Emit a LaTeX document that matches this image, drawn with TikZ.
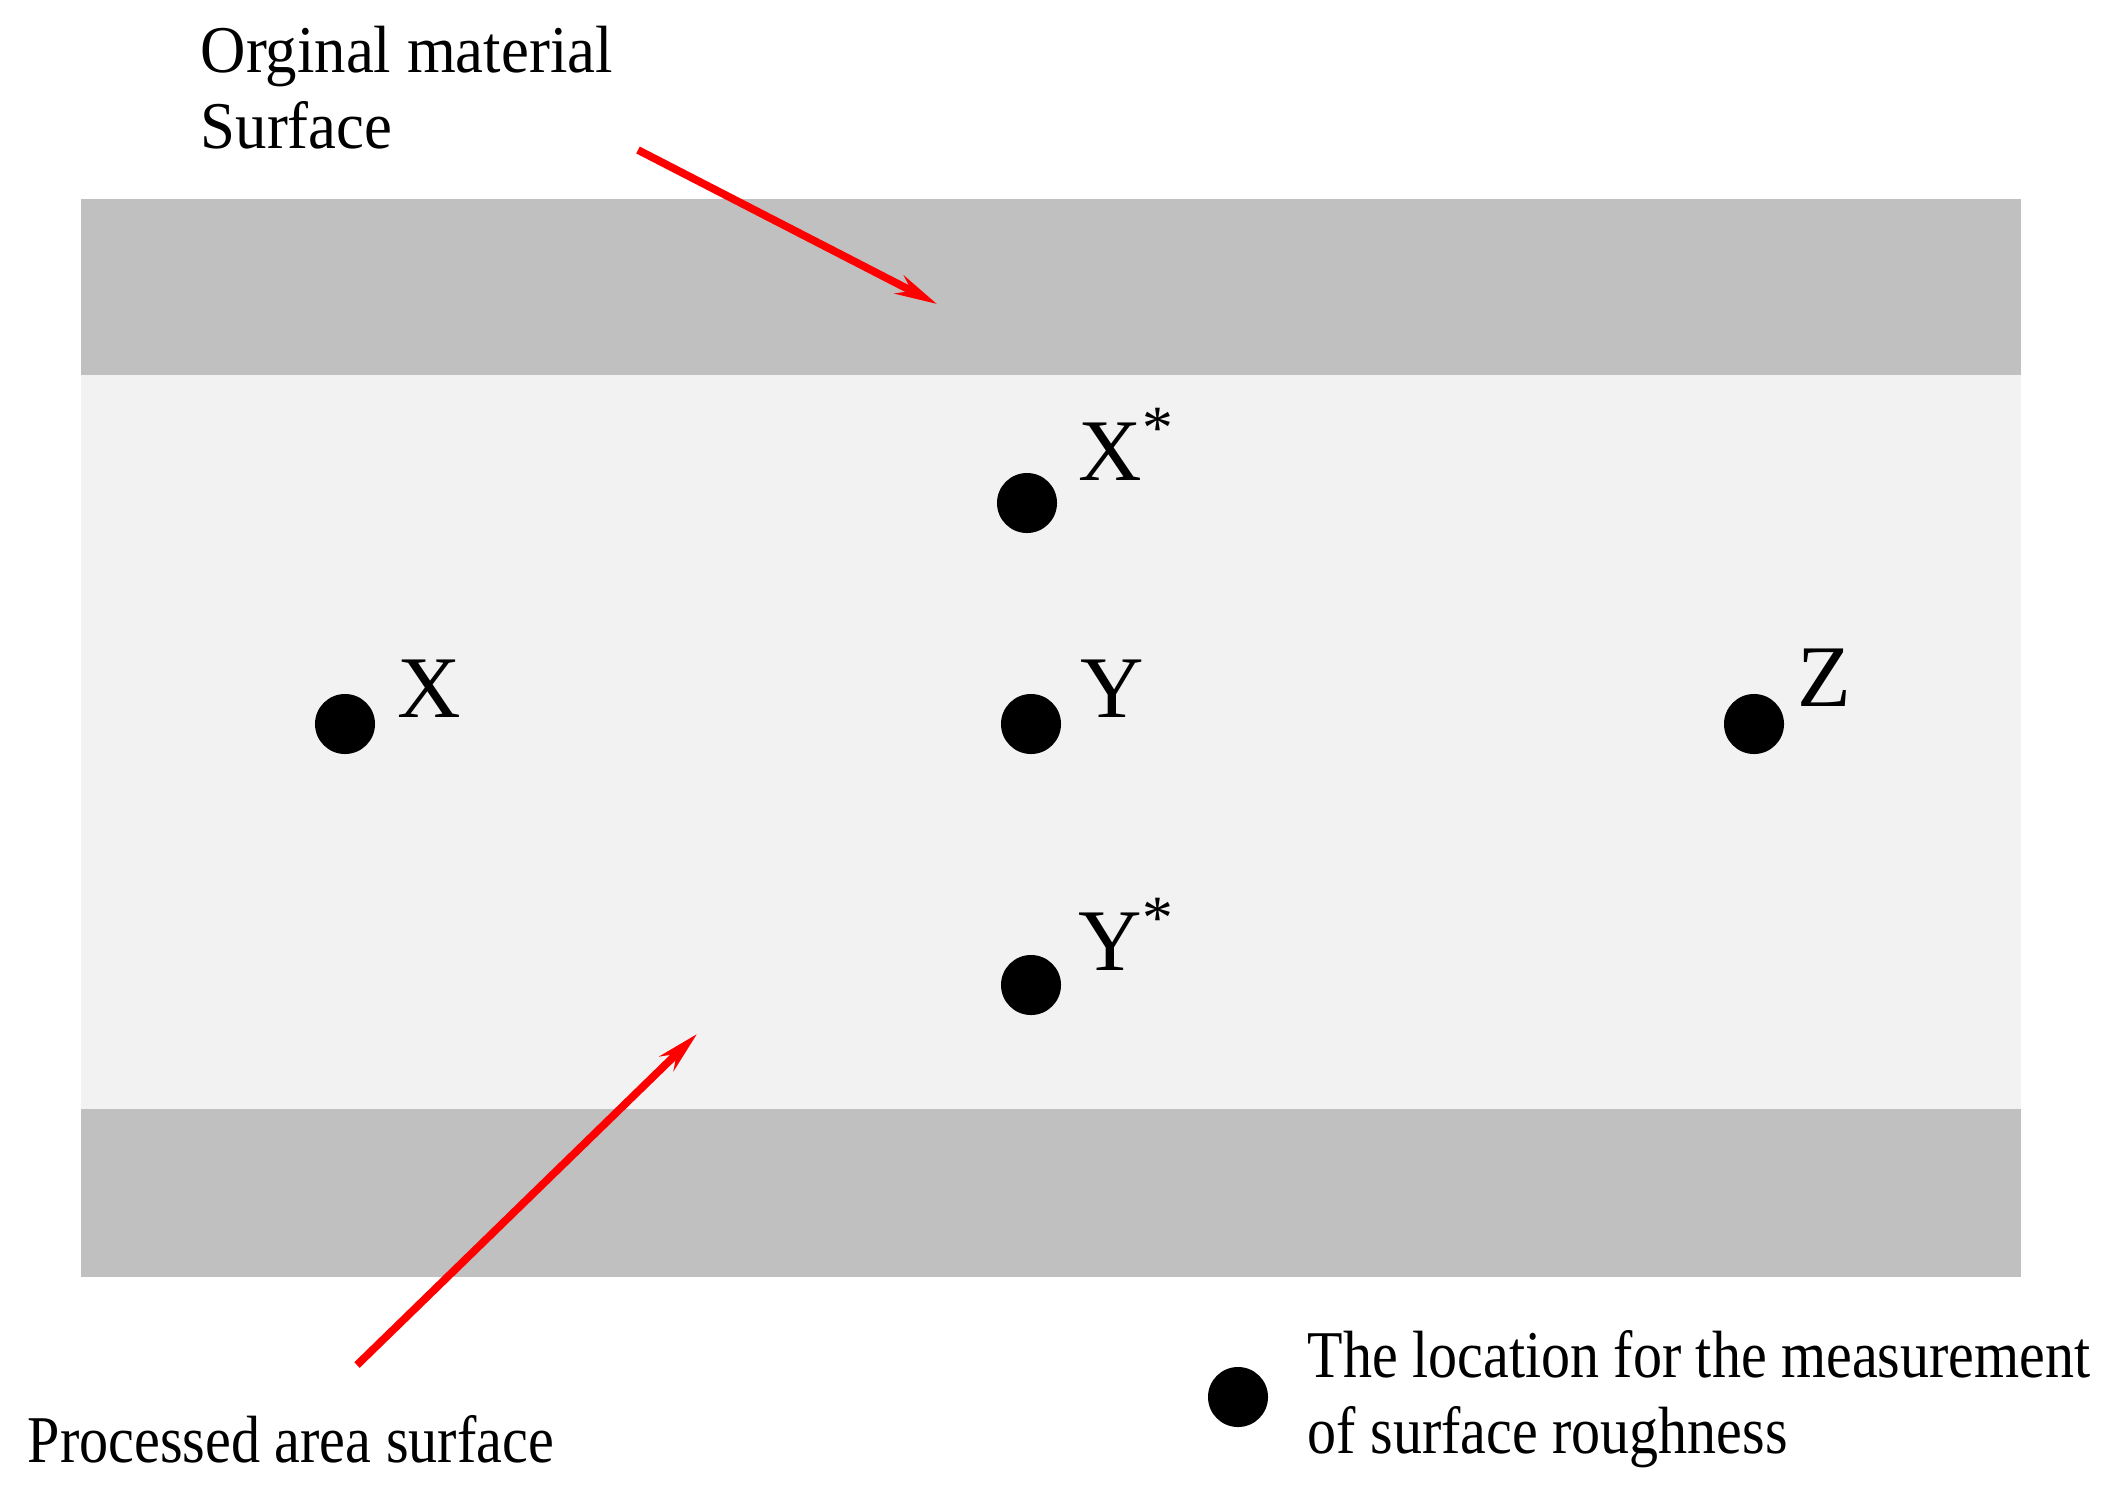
\documentclass[tikz,border=0pt]{standalone}
\usepackage{graphicx}
\usepackage{fontspec}
\setmainfont{Liberation Serif}
\usetikzlibrary{arrows.meta}
\definecolor{bandgray}{RGB}{192,192,192}
\definecolor{midgray}{RGB}{242,242,242}
\begin{document}
\begin{tikzpicture}[x=0.01cm,y=-0.01cm,
  dot/.style={circle,fill=black,inner sep=0pt,minimum size=0.6cm},
  lbl/.style={anchor=base west,inner sep=0pt,font=\fontsize{25}{30}\selectfont},
  txt/.style={anchor=base west,inner sep=0pt,font=\fontsize{19}{22}\selectfont},
  redarrow/.style={red,line width=2.2pt,-{Stealth[length=0.42cm,width=0.2cm]}}]
\useasboundingbox (0,0) rectangle (2121,1493);
\fill[white] (0,0) rectangle (2121,1493);
% plate
\fill[midgray] (81,375) rectangle (2021,1109);
\fill[bandgray] (81,199) rectangle (2021,375);
\fill[bandgray] (81,1109) rectangle (2021,1277);
% measurement points
\node[dot] (dX) at (345,724) {};
\node[dot] (dXs) at (1027,503) {};
\node[dot] (dY) at (1031,724) {};
\node[dot] (dYs) at (1031,985) {};
\node[dot] (dZ) at (1754,724) {};
\node[dot] (dL) at (1238,1397) {};
% point labels
\node[lbl] (lX) at (397,717) {X};
\node[lbl] (lXs) at (1078,480) {X\textsuperscript{*}};
\node[lbl] (lY) at (1080,717) {Y};
\node[lbl] (lYs) at (1078,970) {Y\textsuperscript{*}};
\node[lbl] (lZ) at (1797,706) {Z};
% texts
\node[txt] (orig1) at (200,72) {\scalebox{0.94}[1]{Orginal material}};
\node[txt] (orig2) at (200,148) {\scalebox{0.94}[1]{Surface}};
\node[txt] (proc) at (27,1462) {\scalebox{0.87}[1]{Processed area surface}};
\node[txt] (leg1) at (1307,1377) {\scalebox{0.868}[1]{The location for the measurement}};
\node[txt] (leg2) at (1307,1453) {\scalebox{0.868}[1]{of surface roughness}};
% arrows
\coordinate (a1s) at (638,150);
\coordinate (a1e) at (937,304);
\coordinate (a2s) at (357,1365);
\coordinate (a2e) at (697,1034);
\draw[redarrow] (a1s) -- (a1e);
\draw[redarrow] (a2s) -- (a2e);
\end{tikzpicture}
\end{document}
